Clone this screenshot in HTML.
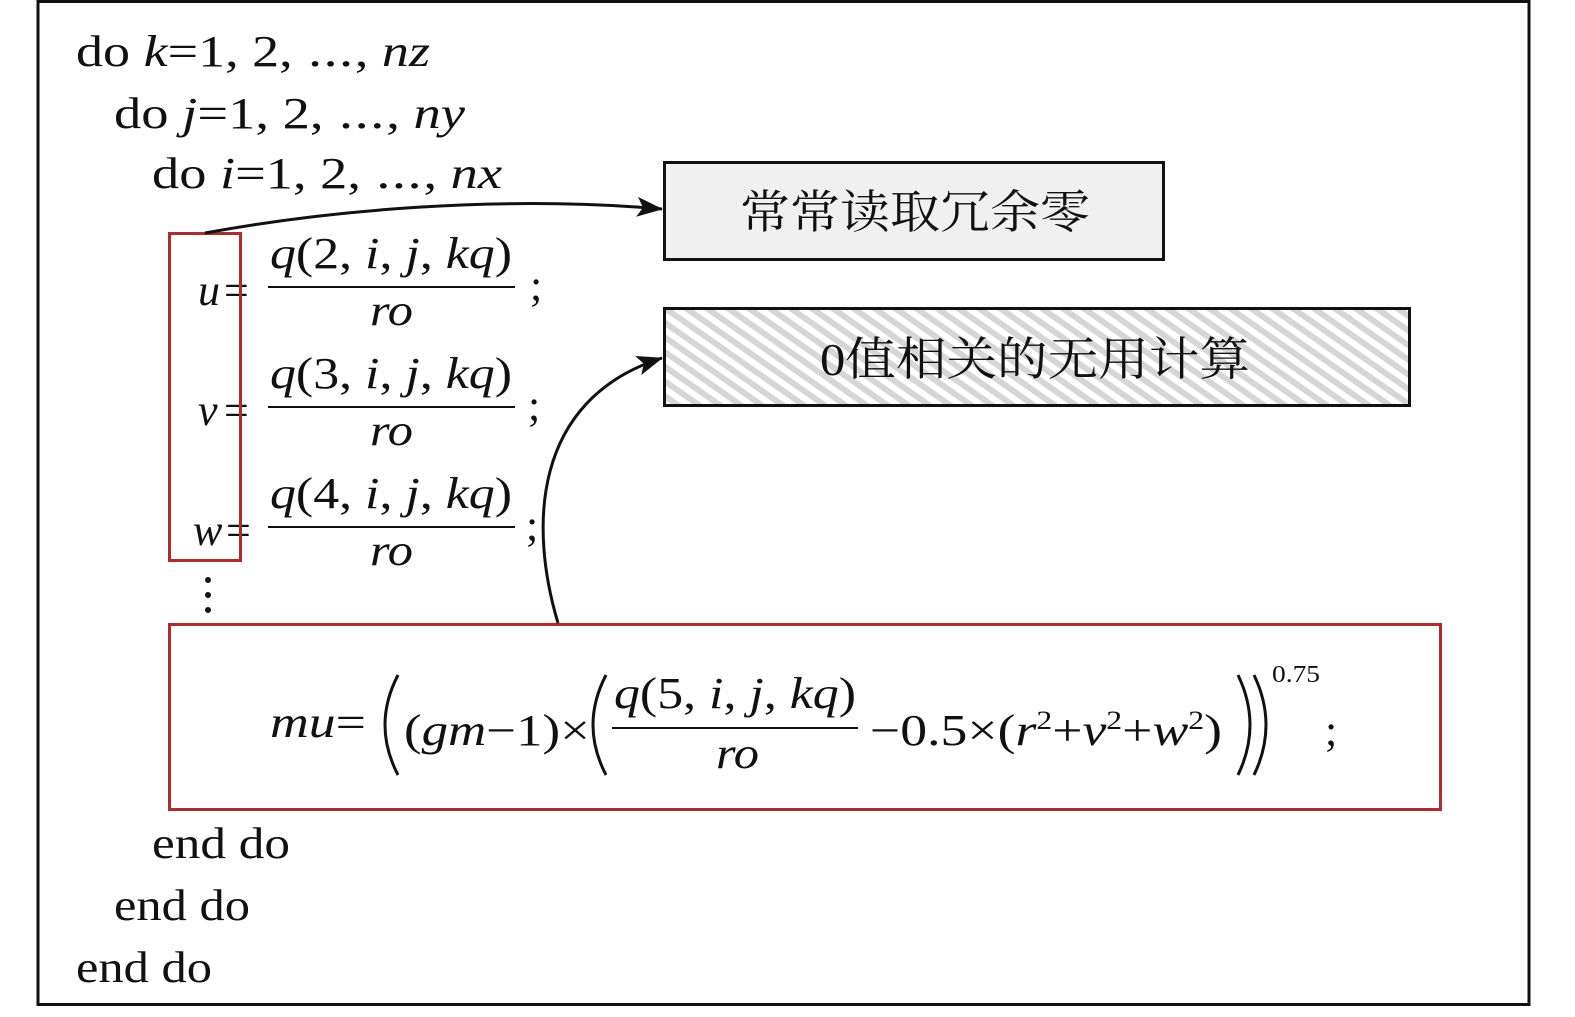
<!DOCTYPE html>
<html><head><meta charset="utf-8"><style>
html,body{margin:0;padding:0;background:#fff;}
svg text{font-family:"Liberation Serif","Noto Serif CJK SC",serif;fill:#111;}
.i{font-style:italic;}
</style></head><body>
<svg width="1575" height="1012" viewBox="0 0 1575 1012" xmlns="http://www.w3.org/2000/svg">
<defs>
<pattern id="h" width="12" height="12" patternUnits="userSpaceOnUse" patternTransform="rotate(35)">
<rect width="12" height="12" fill="#fff"/>
<rect width="12" height="6" fill="#d6d6d6"/>
</pattern>
<marker id="a" markerWidth="26" markerHeight="20" refX="25" refY="10" orient="auto" markerUnits="userSpaceOnUse">
<path d="M0,0 L26,10 L0,20 L6,10 z" fill="#111"/>
</marker>
</defs>
<rect x="38" y="1.5" width="1491" height="1003" fill="#fff" stroke="#111" stroke-width="3"/>
<g font-size="44">
<text x="76" y="66" textLength="354" lengthAdjust="spacingAndGlyphs">do <tspan class="i">k</tspan>=1, 2, ⋯, <tspan class="i">nz</tspan></text>
<text x="114" y="128" textLength="351" lengthAdjust="spacingAndGlyphs">do <tspan class="i">j</tspan>=1, 2, ⋯, <tspan class="i">ny</tspan></text>
<text x="152" y="188" textLength="350" lengthAdjust="spacingAndGlyphs">do <tspan class="i">i</tspan>=1, 2, ⋯, <tspan class="i">nx</tspan></text>
<text x="152" y="858" textLength="138" lengthAdjust="spacingAndGlyphs">end do</text>
<text x="114" y="920" textLength="136" lengthAdjust="spacingAndGlyphs">end do</text>
<text x="76" y="982" textLength="136" lengthAdjust="spacingAndGlyphs">end do</text>
</g>
<rect x="664.5" y="162.5" width="499" height="97" fill="#f0f0f0" stroke="#111" stroke-width="3"/>
<text x="740" y="228" font-size="46" textLength="350" lengthAdjust="spacingAndGlyphs">常常读取冗余零</text>
<rect x="664.5" y="308.5" width="745" height="97" fill="url(#h)" stroke="#111" stroke-width="3"/>
<text x="820" y="375" font-size="46" textLength="430" lengthAdjust="spacingAndGlyphs">0值相关的无用计算</text>
<g font-size="44">
<text x="198" y="305" class="i">u</text><text x="224" y="305">=</text>
<text x="270" y="268" textLength="242" lengthAdjust="spacingAndGlyphs"><tspan class="i">q</tspan>(2, <tspan class="i">i</tspan>, <tspan class="i">j</tspan>, <tspan class="i">kq</tspan>)</text>
<line x1="268" y1="287" x2="515" y2="287" stroke="#111" stroke-width="2"/>
<text x="370" y="325" class="i" textLength="43" lengthAdjust="spacingAndGlyphs">ro</text><text x="530" y="300">;</text>
<text x="198" y="425" class="i">v</text><text x="224" y="425">=</text>
<text x="270" y="388" textLength="242" lengthAdjust="spacingAndGlyphs"><tspan class="i">q</tspan>(3, <tspan class="i">i</tspan>, <tspan class="i">j</tspan>, <tspan class="i">kq</tspan>)</text>
<line x1="268" y1="407" x2="515" y2="407" stroke="#111" stroke-width="2"/>
<text x="370" y="445" class="i" textLength="43" lengthAdjust="spacingAndGlyphs">ro</text><text x="528" y="420">;</text>
<text x="193" y="545" class="i">w</text><text x="226" y="545">=</text>
<text x="270" y="508" textLength="242" lengthAdjust="spacingAndGlyphs"><tspan class="i">q</tspan>(4, <tspan class="i">i</tspan>, <tspan class="i">j</tspan>, <tspan class="i">kq</tspan>)</text>
<line x1="268" y1="527" x2="515" y2="527" stroke="#111" stroke-width="2"/>
<text x="370" y="565" class="i" textLength="43" lengthAdjust="spacingAndGlyphs">ro</text><text x="526" y="540">;</text>
</g>
<rect x="169.5" y="233.5" width="71" height="327" fill="none" stroke="#b22a2a" stroke-width="3"/>
<circle cx="208" cy="580" r="3" fill="#111"/><circle cx="208" cy="595" r="3" fill="#111"/><circle cx="208" cy="610" r="3" fill="#111"/>
<rect x="169.5" y="624.5" width="1271" height="185" fill="none" stroke="#b22a2a" stroke-width="3"/>
<g font-size="44">
<text x="270" y="737" textLength="96" lengthAdjust="spacingAndGlyphs"><tspan class="i">mu</tspan>=</text>
<path d="M398,675 Q372,725 398,775" fill="none" stroke="#111" stroke-width="3"/>
<text x="404" y="745" textLength="186" lengthAdjust="spacingAndGlyphs">(<tspan class="i">gm</tspan>−1)×</text>
<path d="M606,675 Q580,725 606,775" fill="none" stroke="#111" stroke-width="3"/>
<text x="614" y="708" textLength="242" lengthAdjust="spacingAndGlyphs"><tspan class="i">q</tspan>(5, <tspan class="i">i</tspan>, <tspan class="i">j</tspan>, <tspan class="i">kq</tspan>)</text>
<line x1="612" y1="728" x2="858" y2="728" stroke="#111" stroke-width="2"/>
<text x="716" y="768" class="i" textLength="43" lengthAdjust="spacingAndGlyphs">ro</text>
<text x="870" y="745" textLength="352" lengthAdjust="spacingAndGlyphs">−0.5×(<tspan class="i">r</tspan><tspan font-size="26" dy="-16">2</tspan><tspan dy="16">+</tspan><tspan class="i">v</tspan><tspan font-size="26" dy="-16">2</tspan><tspan dy="16">+</tspan><tspan class="i">w</tspan><tspan font-size="26" dy="-16">2</tspan><tspan dy="16">)</tspan></text>
<path d="M1238,675 Q1262,725 1238,775" fill="none" stroke="#111" stroke-width="3"/>
<path d="M1254,675 Q1278,725 1254,775" fill="none" stroke="#111" stroke-width="3"/>
<text x="1272" y="682" font-size="24" textLength="48" lengthAdjust="spacingAndGlyphs">0.75</text>
<text x="1325" y="745">;</text>
</g>
<path d="M205,233 C330,210 500,195 662,209" fill="none" stroke="#111" stroke-width="3" marker-end="url(#a)"/>
<path d="M558,623 C530,530 530,400 662,358" fill="none" stroke="#111" stroke-width="3" marker-end="url(#a)"/>
</svg>
</body></html>
